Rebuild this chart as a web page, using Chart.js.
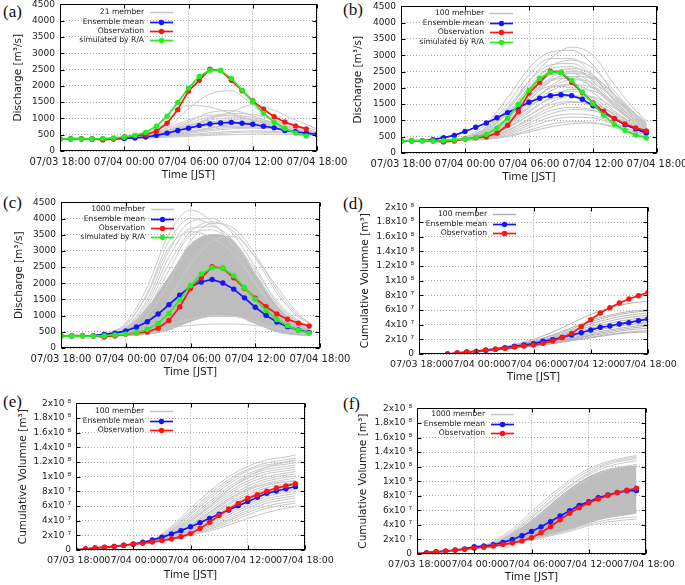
<!DOCTYPE html>
<html>
<head>
<meta charset="utf-8">
<script src="https://cdn.jsdelivr.net/npm/chart.js@4.4.0/dist/chart.umd.min.js"></script>
<style>
    body { margin: 0; background: #fff; width: 685px; height: 585px; overflow: hidden; position: relative; }
    canvas { position: absolute; }
    .tag { position: absolute; font-family: 'Liberation Serif', serif; font-size: 17px; line-height: 1; color: #111; }
</style>
</head>
<body>
<div class="tag" style="left:3px;top:3px">(a)</div>
<div class="tag" style="left:343px;top:1px">(b)</div>
<div class="tag" style="left:3px;top:194px">(c)</div>
<div class="tag" style="left:343px;top:195px">(d)</div>
<div class="tag" style="left:3px;top:393px">(e)</div>
<div class="tag" style="left:343px;top:395px">(f)</div>
<canvas id="chartA"></canvas>
<canvas id="chartB"></canvas>
<canvas id="chartC"></canvas>
<canvas id="chartD"></canvas>
<canvas id="chartE"></canvas>
<canvas id="chartF"></canvas>
<script>
// Axis labels
const TIME_LABELS = ['07/03 18:00', '07/04 00:00', '07/04 06:00', '07/04 12:00', '07/04 18:00'];
const Q_TICK_LABELS = ['0', '500', '1000', '1500', '2000', '2500', '3000', '3500', '4000', '4500'];
const V_TICK_LABELS = ['0', '2x10 \u2077', '4x10 \u2077', '6x10 \u2077', '8x10 \u2077', '1x10 \u2078',
    '1.2x10 \u2078', '1.4x10 \u2078', '1.6x10 \u2078', '1.8x10 \u2078', '2x10 \u2078'];

// Hours after 07/03 18:00
const HOURS = [0, 1, 2, 3, 4, 5, 6, 7, 8, 9, 10, 11, 12, 13, 14, 15, 16, 17, 18, 19, 20, 21, 22, 23, 24];
const HOURS_OBS_D = [3, 4, 5, 6, 7, 8, 9, 10, 11, 12, 13, 14, 15, 16, 17, 18, 19, 20, 21, 22, 23, 24];
const MEMBER_HOURS_A = [4, 6, 8, 10, 12, 14, 16, 18, 20, 22, 24];
const MEMBER_HOURS_B = [4, 6, 8, 10, 12, 14, 16, 18, 20, 22, 23];
const MEMBER_HOURS_C = [2, 4, 6, 8, 10, 12, 14, 16, 18, 20, 22, 23];
const MEMBER_HOURS_D = [6, 8, 10, 12, 14, 16, 18, 20, 22, 24];
const MEMBER_HOURS_V = [6, 8, 10, 12, 14, 16, 18, 20, 22, 23];

// Discharge [m3/s]
const OBS_Q = [370, 380, 380, 370, 340, 370, 430, 470, 500, 610, 850, 1270, 1840, 2170, 2510, 2470, 2170, 1850, 1540, 1280, 1050, 890, 770, 680];
const RA_Q = [370, 370, 370, 370, 380, 400, 430, 480, 570, 760, 1070, 1490, 1930, 2290, 2480, 2470, 2230, 1870, 1510, 1160, 880, 690, 550, 460];
const MEAN_Q21 = [370, 370, 370, 370, 370, 375, 385, 400, 430, 480, 550, 630, 700, 780, 830, 860, 880, 850, 820, 760, 710, 630, 590, 550, 510];
const MEAN_Q100 = [370, 370, 375, 410, 470, 540, 660, 790, 920, 1080, 1240, 1390, 1560, 1680, 1760, 1790, 1760, 1650, 1450, 1240, 1050, 870, 740, 610];
const MEAN_Q1000 = [370, 370, 375, 380, 420, 460, 530, 650, 810, 1050, 1340, 1630, 1890, 2040, 2120, 2010, 1820, 1550, 1260, 1010, 800, 660, 560, 480];

const MEMBERS_A = [
    [370, 400, 450, 700, 1300, 1750, 1850, 1400, 950, 650, 480],
    [370, 420, 520, 900, 1400, 1350, 1150, 950, 750, 580, 470],
    [370, 390, 430, 550, 750, 1000, 1200, 1420, 1250, 950, 680],
    [370, 400, 480, 650, 900, 1180, 1240, 1080, 850, 650, 520],
    [370, 400, 470, 620, 850, 1050, 1150, 1120, 950, 750, 580],
    [370, 410, 500, 700, 950, 1100, 1080, 950, 780, 620, 500],
    [370, 400, 460, 600, 800, 950, 1020, 980, 850, 680, 540],
    [370, 390, 440, 560, 720, 880, 960, 940, 820, 660, 530],
    [370, 390, 430, 520, 650, 780, 850, 840, 760, 640, 540],
    [370, 380, 420, 500, 600, 720, 800, 800, 740, 650, 560],
    [370, 390, 430, 500, 580, 660, 720, 720, 680, 600, 520],
    [370, 380, 410, 470, 540, 620, 680, 700, 670, 610, 540],
    [370, 380, 400, 450, 500, 560, 600, 620, 600, 560, 500],
    [370, 380, 400, 440, 480, 520, 560, 580, 570, 540, 500],
    [370, 380, 390, 420, 450, 480, 500, 520, 520, 500, 470],
    [370, 380, 400, 460, 560, 700, 820, 900, 880, 780, 640],
    [370, 400, 480, 620, 780, 900, 920, 860, 760, 640, 520],
    [370, 390, 450, 580, 760, 1000, 1100, 1030, 870, 700, 560],
    [370, 380, 410, 480, 580, 700, 760, 760, 700, 620, 550]
];

const MEMBERS_B = [
    [380, 500, 900, 1700, 2600, 3100, 3150, 2700, 1800, 1150, 950],
    [380, 450, 700, 1300, 2200, 2900, 3250, 3000, 2100, 1300, 1000],
    [380, 480, 800, 1500, 2400, 2900, 2900, 2400, 1600, 1000, 820],
    [380, 450, 700, 1200, 2000, 2650, 2850, 2600, 1900, 1200, 950],
    [380, 460, 750, 1350, 2100, 2600, 2650, 2200, 1500, 950, 780],
    [380, 430, 650, 1100, 1800, 2400, 2600, 2400, 1750, 1100, 880],
    [380, 450, 700, 1200, 1900, 2400, 2450, 2100, 1450, 920, 760],
    [380, 420, 600, 1000, 1600, 2200, 2450, 2300, 1700, 1100, 880],
    [380, 440, 650, 1100, 1700, 2200, 2300, 2000, 1400, 900, 740],
    [380, 420, 580, 950, 1500, 2000, 2250, 2150, 1650, 1080, 860],
    [380, 430, 620, 1000, 1550, 2000, 2100, 1850, 1300, 860, 710],
    [380, 410, 560, 880, 1400, 1900, 2100, 2000, 1550, 1020, 820],
    [380, 420, 580, 920, 1400, 1800, 1900, 1700, 1250, 830, 680],
    [380, 400, 520, 800, 1250, 1700, 1950, 1900, 1500, 1000, 800],
    [380, 410, 550, 850, 1300, 1650, 1750, 1580, 1180, 800, 660],
    [380, 400, 500, 760, 1150, 1550, 1750, 1720, 1380, 940, 760],
    [380, 400, 520, 780, 1150, 1480, 1580, 1450, 1100, 760, 630],
    [380, 400, 490, 700, 1050, 1400, 1550, 1500, 1220, 860, 700],
    [380, 400, 480, 680, 1000, 1300, 1400, 1320, 1030, 720, 600],
    [380, 390, 460, 640, 920, 1200, 1330, 1300, 1080, 780, 640],
    [380, 390, 450, 600, 850, 1100, 1200, 1150, 920, 660, 560],
    [380, 390, 440, 560, 780, 1000, 1100, 1080, 880, 640, 550],
    [380, 390, 430, 520, 700, 880, 960, 930, 780, 580, 500],
    [380, 390, 420, 500, 650, 800, 900, 920, 800, 600, 470],
    [380, 440, 640, 1050, 1650, 2050, 2000, 1650, 1150, 760, 640],
    [380, 470, 780, 1400, 2200, 2700, 2750, 2350, 1600, 1000, 800],
    [380, 460, 720, 1250, 2000, 2500, 2550, 2250, 1650, 1050, 840],
    [380, 430, 640, 1050, 1700, 2300, 2500, 2350, 1800, 1150, 900],
    [380, 410, 560, 900, 1450, 2050, 2350, 2300, 1800, 1180, 920],
    [380, 440, 660, 1100, 1750, 2250, 2350, 2050, 1450, 940, 770]
];

const MEMBERS_C = [
    [370, 450, 770, 1890, 3530, 4260, 3900, 3100, 2000, 1150, 700, 600],
    [370, 430, 700, 1700, 3300, 4000, 3800, 3300, 2300, 1300, 780, 650],
    [370, 420, 650, 1500, 3000, 3900, 4000, 3500, 2500, 1400, 820, 680],
    [370, 420, 620, 1400, 2800, 3700, 3750, 3300, 2400, 1450, 850, 700],
    [370, 410, 600, 1300, 2600, 3600, 3900, 3600, 2800, 1700, 950, 760],
    [370, 400, 560, 1200, 2400, 3500, 3650, 3200, 2300, 1350, 800, 660],
    [370, 400, 520, 1000, 2000, 3300, 3850, 3700, 2900, 1800, 1000, 800],
    [370, 440, 720, 1650, 3100, 3600, 3400, 2900, 2000, 1200, 720, 620],
    [370, 390, 480, 800, 1500, 2600, 3300, 3450, 2800, 1900, 1050, 780],
    [370, 380, 420, 500, 620, 700, 740, 740, 700, 600, 480, 430],
    [370, 380, 430, 520, 700, 900, 1000, 980, 820, 620, 480, 430]
];
const BAND_C_LOW = [370, 370, 380, 420, 560, 820, 980, 980, 760, 500, 400, 380];
const BAND_C_HIGH = [370, 430, 620, 1250, 2200, 3200, 3500, 3300, 2300, 1300, 720, 610];

// Cumulative volume [10^7 m3]
const OBS_V_D = [0, 0.14, 0.27, 0.36, 0.55, 0.64, 0.77, 0.95, 1.1, 1.23, 1.45, 1.77, 2.23, 2.82, 3.73, 4.68, 5.6, 6.3, 6.95, 7.5, 7.95, 8.4];
const MEAN_V_D = [0, 0.14, 0.27, 0.36, 0.52, 0.66, 0.86, 1.05, 1.23, 1.41, 1.73, 1.95, 2.27, 2.6, 2.9, 3.27, 3.64, 3.82, 4.1, 4.27, 4.55, 4.77];
const OBS_V = [0, 0.16, 0.28, 0.38, 0.5, 0.64, 0.8, 0.93, 1.09, 1.3, 1.52, 1.8, 2.24, 2.93, 3.77, 4.7, 5.6, 6.36, 7.05, 7.55, 8.02, 8.45, 8.75, 9.05];
const MEAN_V100 = [0, 0.14, 0.27, 0.36, 0.5, 0.65, 0.82, 1.05, 1.36, 1.73, 2.18, 2.64, 3.18, 3.73, 4.32, 4.9, 5.45, 6.05, 6.6, 7.2, 7.73, 8.05, 8.36, 8.64];
const MEAN_V1000 = [0, 0.18, 0.3, 0.4, 0.55, 0.7, 1.0, 1.1, 1.27, 1.6, 2.0, 2.5, 3.1, 3.73, 4.45, 5.23, 5.95, 6.68, 7.18, 7.73, 8.1, 8.45, 8.68, 8.73];

const MEMBERS_D = [
    [0.4, 0.75, 1.3, 2.0, 3.0, 4.2, 5.4, 6.3, 6.9, 7.2],
    [0.4, 0.7, 1.2, 1.8, 2.6, 3.6, 4.6, 5.3, 5.8, 6.0],
    [0.4, 0.7, 1.2, 1.7, 2.5, 3.4, 4.4, 5.1, 5.6, 5.9],
    [0.4, 0.65, 1.1, 1.6, 2.3, 3.2, 4.1, 4.8, 5.3, 5.6],
    [0.4, 0.65, 1.1, 1.6, 2.2, 3.0, 3.8, 4.5, 5.0, 5.3],
    [0.35, 0.6, 1.0, 1.5, 2.1, 2.8, 3.5, 4.2, 4.7, 5.0],
    [0.35, 0.6, 1.0, 1.4, 2.0, 2.6, 3.3, 3.9, 4.4, 4.7],
    [0.35, 0.6, 0.95, 1.3, 1.8, 2.4, 3.0, 3.6, 4.0, 4.3],
    [0.35, 0.55, 0.9, 1.25, 1.7, 2.2, 2.8, 3.3, 3.7, 4.0],
    [0.35, 0.55, 0.9, 1.2, 1.6, 2.1, 2.6, 3.1, 3.5, 3.8],
    [0.35, 0.55, 0.85, 1.15, 1.5, 2.0, 2.5, 2.9, 3.3, 3.5],
    [0.35, 0.5, 0.8, 1.1, 1.45, 1.9, 2.3, 2.7, 3.0, 3.2],
    [0.35, 0.5, 0.8, 1.05, 1.4, 1.8, 2.2, 2.6, 2.9, 3.0]
];

const MEMBERS_E = [
    [0.8, 1.4, 3.2, 5.7, 8.0, 10.0, 11.4, 12.3, 12.7, 12.95],
    [0.8, 1.35, 3.0, 5.3, 7.6, 9.6, 11.0, 11.9, 12.3, 12.5],
    [0.8, 1.3, 2.8, 5.0, 7.3, 9.3, 10.8, 11.6, 12.0, 12.2],
    [0.8, 1.3, 2.7, 4.8, 7.0, 9.0, 10.4, 11.3, 11.7, 11.9],
    [0.8, 1.25, 2.6, 4.5, 6.6, 8.6, 10.1, 11.0, 11.4, 11.6],
    [0.8, 1.25, 2.5, 4.3, 6.3, 8.3, 9.8, 10.7, 11.1, 11.3],
    [0.8, 1.2, 2.4, 4.1, 6.0, 7.9, 9.4, 10.4, 10.8, 11.0],
    [0.8, 1.2, 2.3, 3.9, 5.8, 7.6, 9.1, 10.0, 10.5, 10.7],
    [0.8, 1.2, 2.2, 3.7, 5.5, 7.3, 8.7, 9.7, 10.2, 10.4],
    [0.8, 1.15, 2.1, 3.5, 5.2, 7.0, 8.4, 9.4, 9.9, 10.1],
    [0.8, 1.15, 2.0, 3.4, 5.0, 6.7, 8.1, 9.1, 9.6, 9.8],
    [0.8, 1.1, 1.95, 3.2, 4.8, 6.4, 7.8, 8.8, 9.3, 9.5],
    [0.8, 1.1, 1.9, 3.1, 4.6, 6.2, 7.5, 8.5, 9.0, 9.2],
    [0.8, 1.1, 1.8, 2.9, 4.3, 5.9, 7.2, 8.2, 8.7, 8.9],
    [0.78, 1.08, 1.75, 2.8, 4.1, 5.6, 6.9, 7.9, 8.4, 8.6],
    [0.78, 1.07, 1.7, 2.7, 3.9, 5.3, 6.6, 7.6, 8.1, 8.3],
    [0.78, 1.06, 1.65, 2.6, 3.7, 5.1, 6.3, 7.3, 7.8, 8.0],
    [0.78, 1.05, 1.6, 2.5, 3.5, 4.8, 6.0, 7.0, 7.5, 7.7],
    [0.77, 1.04, 1.55, 2.4, 3.3, 4.5, 5.7, 6.7, 7.2, 7.4],
    [0.77, 1.03, 1.5, 2.3, 3.1, 4.2, 5.4, 6.4, 6.9, 7.1],
    [0.76, 1.02, 1.47, 2.2, 2.9, 4.0, 5.1, 6.0, 6.5, 6.7],
    [0.76, 1.01, 1.44, 2.1, 2.8, 3.7, 4.8, 5.7, 6.2, 6.4],
    [0.75, 1.0, 1.4, 2.0, 2.6, 3.4, 4.3, 5.1, 5.7, 5.9],
    [0.78, 1.1, 1.9, 3.3, 5.1, 6.9, 8.3, 9.0, 9.3, 9.4],
    [0.78, 1.2, 2.3, 4.0, 6.0, 8.2, 10.0, 11.3, 12.0, 12.3]
];

const MEMBERS_F = [
    [0.9, 1.7, 3.5, 5.8, 8.1, 10.1, 11.7, 12.7, 13.3, 13.5],
    [0.9, 1.6, 3.2, 5.4, 7.7, 9.8, 11.4, 12.5, 13.1, 13.3],
    [0.88, 1.5, 3.0, 5.1, 7.3, 9.4, 11.1, 12.3, 12.9, 13.1],
    [0.88, 1.5, 2.9, 4.9, 7.1, 9.2, 10.9, 12.0, 12.6, 12.8],
    [0.87, 1.3, 2.5, 4.3, 6.5, 8.6, 10.3, 11.5, 12.1, 12.3],
    [0.85, 1.0, 1.4, 1.9, 2.5, 3.1, 3.9, 4.4, 4.7, 4.8],
    [0.85, 1.02, 1.45, 2.0, 2.6, 3.3, 4.1, 4.7, 5.0, 5.1]
];
const BAND_F_LOW = [0.85, 1.05, 1.5, 2.1, 2.7, 3.4, 4.3, 5.0, 5.4, 5.6];
const BAND_F_HIGH = [0.85, 1.4, 2.8, 4.6, 6.8, 8.9, 10.6, 11.6, 12.0, 12.1];

// Colours and layout
const BLUE = '#1414ff';
const RED = '#ff1414';
const GREEN = '#22ee22';
const FONT = 'DejaVu Sans';
const PAD_TOP = 10;
const PAD_RIGHT = 45;
const X_HEIGHT = 40;

function pts(hours, values) {
    return values.map((v, i) => ({ x: hours[i], y: v }));
}

function mainSet(hours, values, color) {
    return {
        data: pts(hours, values),
        borderColor: color,
        backgroundColor: color,
        borderWidth: 1.7,
        pointRadius: 2.7,
        pointBorderWidth: 0,
        pointBackgroundColor: color
    };
}

function memberSets(hours, members, color) {
    return members.map(m => ({
        data: pts(hours, m),
        borderColor: color,
        borderWidth: 1,
        pointRadius: 0,
        cubicInterpolationMode: 'monotone'
    }));
}

function bandSets(hours, low, high, color) {
    return [
        { data: pts(hours, low), borderColor: color, borderWidth: 1, pointRadius: 0, cubicInterpolationMode: 'monotone' },
        { data: pts(hours, high), borderColor: color, borderWidth: 1, pointRadius: 0, cubicInterpolationMode: 'monotone',
          fill: '-1', backgroundColor: color }
    ];
}

// Black frame with inward ticks (gnuplot look)
const framePlugin = {
    id: 'frame',
    afterDatasetsDraw(chart) {
        const { ctx, chartArea: a, scales } = chart;
        const l = Math.round(a.left) + 0.5, r = Math.round(a.right) - 0.5;
        const t = Math.round(a.top) + 0.5, b = Math.round(a.bottom) - 0.5;
        ctx.save();
        ctx.strokeStyle = '#000';
        ctx.lineWidth = 1;
        ctx.beginPath();
        scales.x.ticks.forEach(tk => {
            const px = Math.round(scales.x.getPixelForValue(tk.value)) + 0.5;
            ctx.moveTo(px, b); ctx.lineTo(px, b - 4);
            ctx.moveTo(px, t); ctx.lineTo(px, t + 4);
        });
        scales.y.ticks.forEach(tk => {
            const py = Math.round(scales.y.getPixelForValue(tk.value)) + 0.5;
            ctx.moveTo(l, py); ctx.lineTo(l + 4, py);
            ctx.moveTo(r, py); ctx.lineTo(r - 4, py);
        });
        ctx.stroke();
        ctx.strokeRect(l, t, r - l, b - t);
        ctx.restore();
    }
};

// gnuplot style key: text right aligned, then line sample
function keyPlugin(entries, key) {
    return {
        id: 'gnuKey',
        afterDatasetsDraw(chart) {
            const { ctx, chartArea: a } = chart;
            ctx.save();
            ctx.font = '7.6px "' + FONT + '"';
            ctx.textAlign = 'right';
            ctx.textBaseline = 'middle';
            entries.forEach((e, i) => {
                const y = Math.round(a.top + key.top + i * key.step) + 0.5;
                const x0 = a.left + key.textRight + 6;
                const x1 = x0 + 23;
                ctx.fillStyle = '#222';
                ctx.fillText(e.label, a.left + key.textRight, y);
                ctx.strokeStyle = e.color;
                ctx.lineWidth = e.marker ? 1.7 : 1.5;
                ctx.beginPath();
                ctx.moveTo(x0, y);
                ctx.lineTo(x1, y);
                ctx.stroke();
                if (e.marker) {
                    ctx.fillStyle = e.color;
                    ctx.beginPath();
                    ctx.arc((x0 + x1) / 2, y, 2.7, 0, Math.PI * 2);
                    ctx.fill();
                }
            });
            ctx.restore();
        }
    };
}

function makeChart(id, spec) {
    const canvas = document.getElementById(id);
    const left = spec.area.left - spec.yWidth;
    const top = spec.area.top - PAD_TOP;
    const width = spec.area.right + PAD_RIGHT - left;
    const height = spec.area.bottom + X_HEIGHT - top;
    canvas.style.left = left + 'px';
    canvas.style.top = top + 'px';
    canvas.width = width;
    canvas.height = height;

    const volume = spec.kind === 'volume';
    const yLabels = volume ? V_TICK_LABELS : Q_TICK_LABELS;

    return new Chart(canvas, {
        type: 'line',
        data: { datasets: spec.datasets },
        options: {
            responsive: false,
            animation: false,
            devicePixelRatio: 1,
            layout: { padding: { top: PAD_TOP, right: PAD_RIGHT, left: 0, bottom: 0 } },
            plugins: { legend: { display: false }, tooltip: { enabled: false } },
            scales: {
                x: {
                    type: 'linear',
                    min: 0,
                    max: 24,
                    afterFit: s => { s.height = X_HEIGHT; },
                    ticks: {
                        stepSize: 6,
                        autoSkip: false,
                        minRotation: 0,
                        maxRotation: 0,
                        padding: 5,
                        color: '#222',
                        font: { family: FONT, size: spec.xTickSize },
                        callback: v => TIME_LABELS[Math.round(v / 6)]
                    },
                    grid: { color: '#a8a8a8', drawTicks: false },
                    border: { display: false, dash: [1, 2] },
                    title: {
                        display: true,
                        text: 'Time [JST]',
                        color: '#222',
                        font: { family: FONT, size: 10.5 },
                        padding: { top: 0, bottom: spec.area.bottom + X_HEIGHT - spec.xTitleY - 6 }
                    }
                },
                y: {
                    min: 0,
                    max: volume ? 20 : 4500,
                    afterFit: s => { s.width = spec.yWidth; },
                    ticks: {
                        stepSize: volume ? 2 : 500,
                        padding: 5,
                        color: '#222',
                        font: { family: FONT, size: 9 },
                        callback: (v, i) => yLabels[i]
                    },
                    grid: { color: '#a8a8a8', drawTicks: false },
                    border: { display: false, dash: [1, 2] },
                    title: {
                        display: true,
                        text: volume ? 'Cumulative Volumne [m\u00b3]' : 'Discharge [m\u00b3/s]',
                        color: '#222',
                        font: { family: FONT, size: 10.5 },
                        padding: { top: spec.yTitleX - left - 6, bottom: 0 }
                    }
                }
            }
        },
        plugins: [framePlugin, keyPlugin(spec.entries, spec.key)]
    });
}

function keyEntries(memberLabel, memberColor, withRA) {
    const list = [
        { label: memberLabel, color: memberColor },
        { label: 'Ensemble mean', color: BLUE, marker: true },
        { label: 'Observation', color: RED, marker: true }
    ];
    if (withRA) list.push({ label: 'simulated by R/A', color: GREEN, marker: true });
    return list;
}

// Panel (a)
makeChart('chartA', {
    kind: 'discharge',
    area: { left: 60, right: 317, top: 4, bottom: 151 },
    yWidth: 60, yTitleX: 18, xTitleY: 176, xTickSize: 10,
    key: { textRight: 84, top: 8, step: 9.3 },
    entries: keyEntries('21 member', '#c4c4c4', true),
    datasets: [
        mainSet(HOURS, RA_Q, GREEN),
        mainSet(HOURS, OBS_Q, RED),
        mainSet(HOURS, MEAN_Q21, BLUE),
        ...memberSets(MEMBER_HOURS_A, MEMBERS_A, '#c8c8c8')
    ]
});

// Panel (b)
makeChart('chartB', {
    kind: 'discharge',
    area: { left: 401, right: 657, top: 6, bottom: 153 },
    yWidth: 61, yTitleX: 358, xTitleY: 178, xTickSize: 10,
    key: { textRight: 83, top: 7, step: 9.4 },
    entries: keyEntries('100 member', '#c4c4c4', true),
    datasets: [
        mainSet(HOURS, RA_Q, GREEN),
        mainSet(HOURS, OBS_Q, RED),
        mainSet(HOURS, MEAN_Q100, BLUE),
        ...memberSets(MEMBER_HOURS_B, MEMBERS_B, '#c4c4c4')
    ]
});

// Panel (c)
makeChart('chartC', {
    kind: 'discharge',
    area: { left: 61, right: 320, top: 202, bottom: 348 },
    yWidth: 61, yTitleX: 19, xTitleY: 373, xTickSize: 10,
    key: { textRight: 84, top: 7, step: 9.2 },
    entries: keyEntries('1000 member', '#c4c4c4', true),
    datasets: [
        mainSet(HOURS, RA_Q, GREEN),
        mainSet(HOURS, OBS_Q, RED),
        mainSet(HOURS, MEAN_Q1000, BLUE),
        ...memberSets(MEMBER_HOURS_C, MEMBERS_C, '#cacaca'),
        ...bandSets(MEMBER_HOURS_C, BAND_C_LOW, BAND_C_HIGH, '#bdbdbd')
    ]
});

// Panel (d)
makeChart('chartD', {
    kind: 'volume',
    area: { left: 419, right: 648, top: 207, bottom: 354 },
    yWidth: 79, yTitleX: 365, xTitleY: 378, xTickSize: 9.5,
    key: { textRight: 68, top: 7, step: 9.2 },
    entries: keyEntries('100 member', '#b0b0b0', false),
    datasets: [
        mainSet(HOURS_OBS_D, OBS_V_D, RED),
        mainSet(HOURS_OBS_D, MEAN_V_D, BLUE),
        ...memberSets(MEMBER_HOURS_D, MEMBERS_D, '#b4b4b4')
    ]
});

// Panel (e)
makeChart('chartE', {
    kind: 'volume',
    area: { left: 76, right: 305, top: 403, bottom: 550 },
    yWidth: 76, yTitleX: 23, xTitleY: 576, xTickSize: 9.5,
    key: { textRight: 68, top: 8, step: 9.2 },
    entries: keyEntries('100 member', '#c4c4c4', false),
    datasets: [
        mainSet(HOURS, OBS_V, RED),
        mainSet(HOURS, MEAN_V100, BLUE),
        ...memberSets(MEMBER_HOURS_V, MEMBERS_E, '#c6c6c6')
    ]
});

// Panel (f)
makeChart('chartF', {
    kind: 'volume',
    area: { left: 417, right: 646, top: 408, bottom: 554 },
    yWidth: 77, yTitleX: 363, xTitleY: 578, xTickSize: 9.5,
    key: { textRight: 68, top: 6, step: 9.3 },
    entries: keyEntries('1000 member', '#c4c4c4', false),
    datasets: [
        mainSet(HOURS, OBS_V, RED),
        mainSet(HOURS, MEAN_V1000, BLUE),
        ...memberSets(MEMBER_HOURS_V, MEMBERS_F, '#cacaca'),
        ...bandSets(MEMBER_HOURS_V, BAND_F_LOW, BAND_F_HIGH, '#bdbdbd')
    ]
});
</script>
</body>
</html>
